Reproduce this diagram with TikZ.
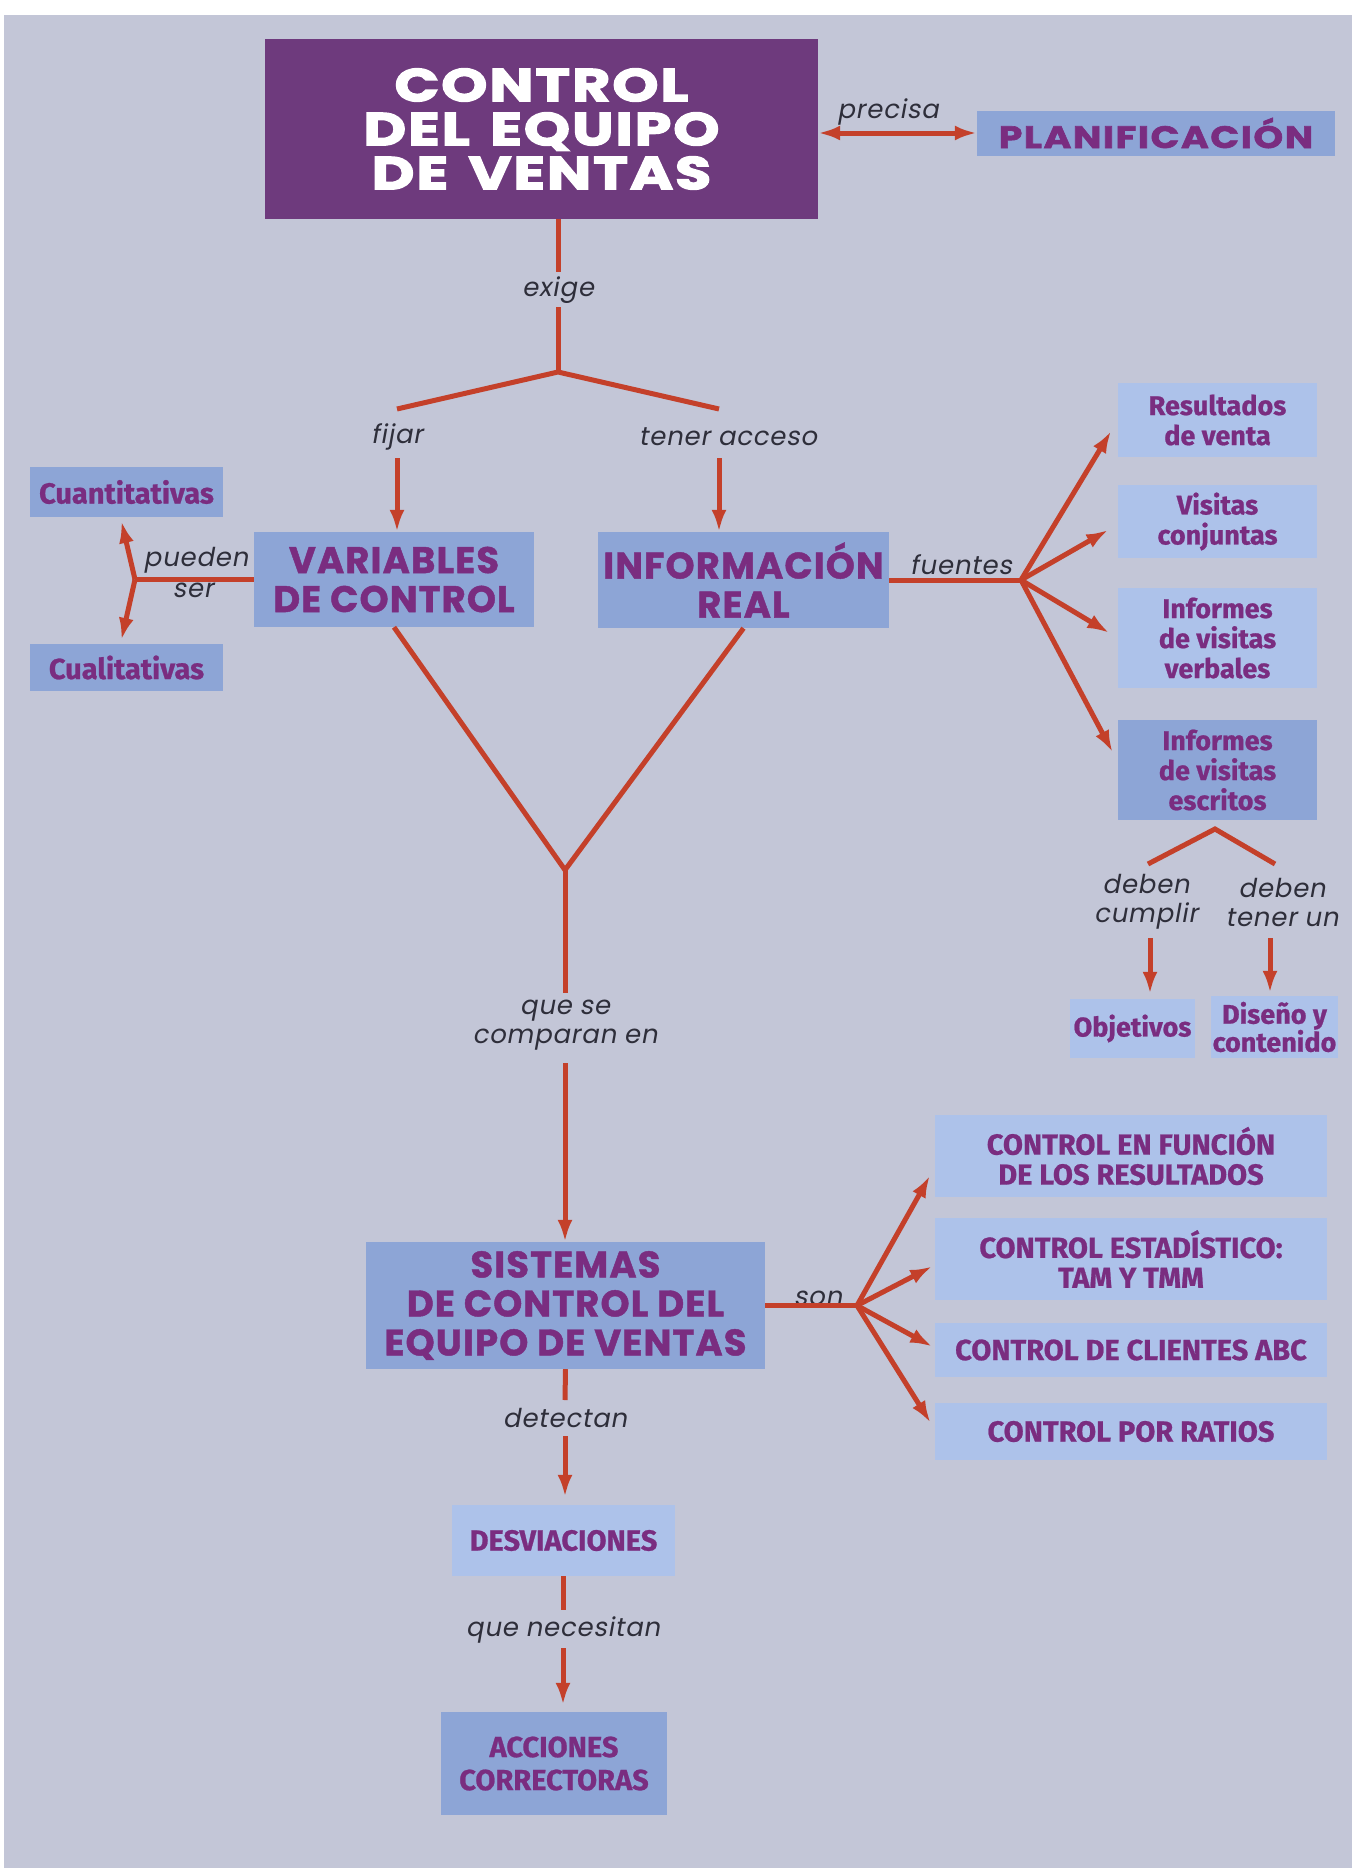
\documentclass[tikz,border=0pt]{standalone}
\usepackage{fontspec}
\usetikzlibrary{arrows.meta}
\setmainfont{Fira Sans}
\newfontfamily\widefont[FakeStretch=1.28,LetterSpace=4,FakeBold=3]{Poppins}
\newfontfamily\planfont[FakeStretch=1.22,LetterSpace=5,FakeBold=2]{Poppins}
\newfontfamily\headfont[LetterSpace=3,FakeBold=1.2]{Poppins}
\newfontfamily\boxfont[FakeBold=0.8]{Fira Sans}
\newfontfamily\tagfont[FakeSlant=0.18,LetterSpace=3]{Poppins}

\definecolor{pagebg}{HTML}{C3C6D7}
\definecolor{boxmid}{HTML}{8DA5D6}
\definecolor{boxlight}{HTML}{ADC2EA}
\definecolor{titlecol}{HTML}{6E3A7D}
\definecolor{ink}{HTML}{7A2D80}
\definecolor{arrowred}{HTML}{C4402A}
\definecolor{linktext}{HTML}{2E2E3A}

\tikzset{
  every node/.style={inner sep=0pt},
  sz/.style 2 args={minimum width=#1pt, minimum height=#2pt},
  titlebox/.style={fill=titlecol, text=white, align=center,
    font=\widefont\bfseries\fontsize{46}{44}\selectfont},
  midbox/.style={fill=boxmid, text=ink, align=center},
  lightbox/.style={fill=boxlight, text=ink, align=center},
  widetext/.style={font=\planfont\bfseries\fontsize{31}{30}\selectfont},
  bigtext/.style={font=\headfont\bfseries\fontsize{37}{39}\selectfont},
  smalltext/.style={font=\boxfont\bfseries\fontsize{29}{30}\selectfont},
  medtext/.style={font=\boxfont\bfseries\fontsize{27}{30}\selectfont},
  tag/.style={text=linktext, align=center, font=\tagfont\fontsize{26}{29}\selectfont},
  link/.style={draw=arrowred, line width=5pt},
  arr/.style={link, -{Latex[length=22pt,width=15pt]}},
}

\begin{document}
\begin{tikzpicture}[x=1pt,y=-1pt]
\useasboundingbox (0,0) rectangle (1361,1868);
% page and tinted panel
\fill[white] (0,0) rectangle (1361,1868);
\fill[pagebg] (4,15) rectangle (1352,1868);

% ---------- boxes ----------
\node[titlebox, sz={553}{180}] (title) at (541.5,129)
  {CONTROL\\DEL\hspace{6pt} EQUIPO\\DE\hspace{6pt} VENTAS};
\node[midbox, widetext, sz={358}{45}] (plan) at (1156,133) {PLANIFICACIÓN};

\node[midbox, bigtext, sz={280}{95}] (var) at (394,579.5) {VARIABLES\\DE CONTROL};
\node[midbox, bigtext, sz={291}{96}] (info) at (743.5,580) {INFORMACIÓN\\REAL};

\node[midbox, smalltext, sz={193}{50}] (cuant) at (126.5,492) {Cuantitativas};
\node[midbox, smalltext, sz={193}{47}] (cual) at (126.5,667.5) {Cualitativas};

\node[lightbox, medtext, sz={199}{74}] (res) at (1217.5,420) {Resultados\\de venta};
\node[lightbox, medtext, sz={199}{73}] (vis) at (1217.5,521.5) {Visitas\\conjuntas};
\node[lightbox, medtext, sz={199}{100}] (verb) at (1217.5,638) {Informes\\de visitas\\verbales};
\node[midbox, medtext, sz={199}{100}] (escr) at (1217.5,770) {Informes\\de visitas\\escritos};

\node[lightbox, medtext, sz={125}{59}] (obj) at (1132.5,1028.5) {Objetivos};
\node[lightbox, font=\boxfont\bfseries\fontsize{27}{28}\selectfont, sz={127}{62}] (dis) at (1274.5,1027) {Diseño y\\contenido};

\node[midbox, bigtext, sz={399}{127}] (sist) at (565.5,1305.5) {SISTEMAS\\DE CONTROL DEL\\EQUIPO DE VENTAS};

\node[lightbox, smalltext, sz={392}{82}] (fn) at (1131,1156) {CONTROL EN FUNCIÓN\\DE LOS RESULTADOS};
\node[lightbox, smalltext, sz={392}{82}] (est) at (1131,1259) {CONTROL ESTADÍSTICO:\\TAM Y TMM};
\node[lightbox, smalltext, sz={392}{54}] (abc) at (1131,1350) {CONTROL DE CLIENTES ABC};
\node[lightbox, smalltext, sz={392}{57}] (rat) at (1131,1431.5) {CONTROL POR RATIOS};

\node[lightbox, smalltext, sz={223}{71}] (desv) at (563.5,1540.5) {DESVIACIONES};
\node[midbox, smalltext, font=\boxfont\bfseries\fontsize{29}{33}\selectfont, sz={226}{103}] (acc) at (554,1763.5) {ACCIONES\\CORRECTORAS};

% ---------- link words ----------
\node[tag] (precisa) at (888,112) {precisa};
\node[tag] (exige) at (558,290) {exige};
\node[tag] (fijar) at (397,437) {fijar};
\node[tag] (acceso) at (728,437) {tener acceso};
\node[tag] (pueden) at (196,560) {pueden};
\node[tag] (ser) at (193,590) {ser};
\node[tag] (fuentes) at (961,565) {fuentes};
\node[tag] (cumplir) at (1146,902) {deben\\cumplir};
\node[tag] (tenerun) at (1282,902) {deben\\tener un};
\node[tag] (comparan) at (565,1025) {que se\\comparan en};
\node[tag] (son) at (818,1298) {son};
\node[tag] (detectan) at (565,1418) {detectan};
\node[tag] (necesitan) at (563,1630) {que necesitan};

% ---------- junctions ----------
\coordinate (exA) at (558,272);
\coordinate (exB) at (558,307);
\coordinate (fork1) at (558,372);
\coordinate (f1l) at (397,409);
\coordinate (f1r) at (719,409);
\coordinate (fjA) at (397,458);
\coordinate (acA) at (719,458);
\coordinate (jpue) at (135,579.5);
\coordinate (jfu) at (1021,580);
\coordinate (f2top) at (1215,829);
\coordinate (f2l) at (1148,864);
\coordinate (f2r) at (1275,864);
\coordinate (dcA) at (1150,938);
\coordinate (dtA) at (1270,938);
\coordinate (jy) at (565,870);
\coordinate (cpA) at (565,993);
\coordinate (cpB) at (565,1063);
\coordinate (json) at (857,1305.5);
\coordinate (dtcA) at (565,1400);
\coordinate (dtcB) at (565,1436);
\coordinate (ncA) at (563,1610);
\coordinate (ncB) at (563,1648);

% ---------- connectors ----------
\draw[link, {Latex[length=22pt,width=15pt]}-{Latex[length=22pt,width=15pt]}]
  (title.east |- plan.west) -- (plan.west);

\draw[link] (title.south -| exA) -- (exA);
\draw[link] (exB) -- (fork1);
\draw[link] (f1l) -- (fork1) -- (f1r);
\draw[arr] (fjA) -- (fjA |- var.north);
\draw[arr] (acA) -- (acA |- info.north);

\draw[link] (var.west) -- (jpue);
\draw[arr, shorten >=4pt] (jpue) -- ([xshift=-6pt]cuant.south);
\draw[arr, shorten >=4pt] (jpue) -- ([xshift=-6pt]cual.north);

\draw[link] (info.east) -- (jfu);
\draw[arr, shorten >=13pt] (jfu) -- (res.west);
\draw[arr, shorten >=11pt] (jfu) -- ([yshift=-3pt]vis.west);
\draw[arr, shorten >=10pt] (jfu) -- (verb.west);
\draw[arr, shorten >=11pt] (jfu) -- ([yshift=8pt]escr.west);

\draw[link] (f2l) -- (f2top) -- (f2r);
\draw[arr, shorten >=5pt] (dcA) -- (dcA |- obj.north);
\draw[arr, shorten >=3pt] (dtA) -- (dtA |- dis.north);

\draw[link] (var.south) -- (jy) -- (info.south);
\draw[link] (jy) -- (cpA);
\draw[arr] (cpB) -- (cpB |- sist.north);

\draw[link] (sist.east) -- (json);
\draw[arr, shorten >=10pt] (json) -- ([yshift=-11pt]fn.west);
\draw[arr, shorten >=3pt] (json) -- ([yshift=-6pt]est.west);
\draw[arr, shorten >=3pt] (json) -- ([yshift=2pt]abc.west);
\draw[arr, shorten >=8pt] (json) -- ([yshift=2pt]rat.west);

\draw[link] (sist.south) -- (dtcA);
\draw[arr, shorten >=8pt] (dtcB) -- (dtcB |- desv.north);
\draw[link] (desv.south -| ncA) -- (ncA);
\draw[arr, shorten >=7pt] (ncB) -- (ncB |- acc.north);
\end{tikzpicture}
\end{document}
